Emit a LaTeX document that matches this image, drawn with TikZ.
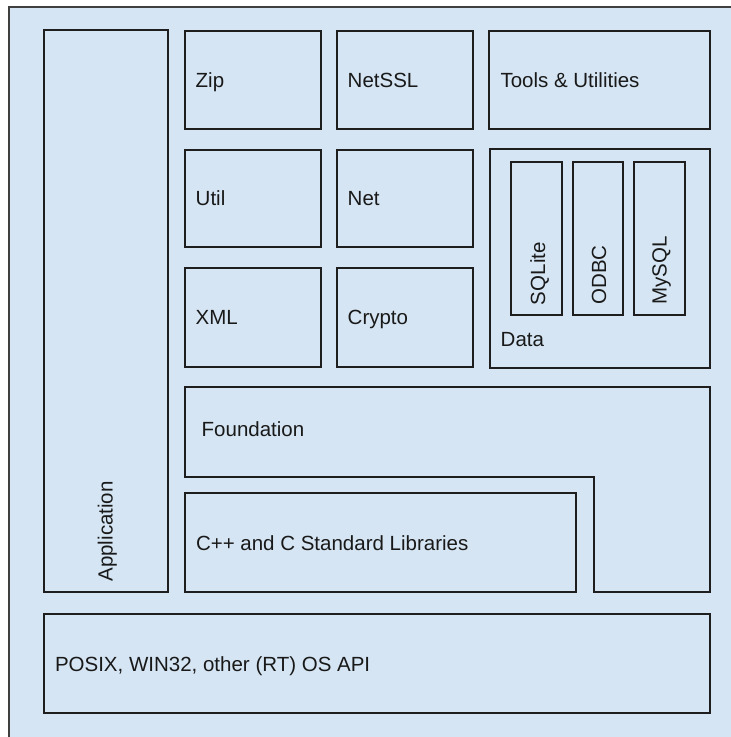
\documentclass[tikz,border=0pt]{standalone}
\usepackage{fontspec}
\setmainfont{Liberation Sans}
\definecolor{fillblue}{HTML}{D5E5F3}
\definecolor{edge}{HTML}{1E1E1E}
\tikzset{
  box/.style={draw=edge, line width=1.8pt, fill=fillblue, rectangle, inner sep=0pt, outer sep=0pt},
  lbl/.style={inner sep=0pt, outer sep=0pt, anchor=base west, font=\fontsize{20.5}{24}\selectfont, text=black!90},
  vlbl/.style={lbl, rotate=90}
}
\begin{document}
\begin{tikzpicture}[x=1pt, y=-1pt]
\useasboundingbox (0,0) rectangle (731,737);
\clip (0,0) rectangle (731,737);
% outer frame
\draw[draw=black!75, line width=1.8pt, fill=fillblue] (9,7) rectangle (745,750);
% boxes
\node[box, minimum width=124, minimum height=562] (app) at (106,311) {};
\node[box, minimum width=136, minimum height=98] (zip) at (253,80) {};
\node[box, minimum width=136, minimum height=98] (netssl) at (405,80) {};
\node[box, minimum width=221, minimum height=98] (tools) at (599.5,80) {};
\node[box, minimum width=136, minimum height=97] (util) at (253,198.5) {};
\node[box, minimum width=136, minimum height=97] (net) at (405,198.5) {};
\node[box, minimum width=136, minimum height=99] (xml) at (253,317.5) {};
\node[box, minimum width=136, minimum height=99] (crypto) at (405,317.5) {};
\node[box, minimum width=220, minimum height=219] (data) at (600,258.5) {};
\node[box, minimum width=51, minimum height=153] (sqlite) at (536.5,238.5) {};
\node[box, minimum width=50, minimum height=153] (odbc) at (598,238.5) {};
\node[box, minimum width=51, minimum height=153] (mysql) at (659.5,238.5) {};
\node[box, minimum width=391, minimum height=99] (cpp) at (380.5,542.5) {};
\node[box, minimum width=666, minimum height=99] (posix) at (377,663.5) {};
% Foundation L-shape
\draw[box] (185,387) -- (710,387) -- (710,592) -- (594,592) -- (594,477) -- (185,477) -- cycle;
\coordinate (found) at (185,387);
% labels
\node[vlbl] (applbl) at (112.5,581.5) {Application};
\node[lbl] (ziplbl) at (195.7,87.3) {Zip};
\node[lbl] (netssllbl) at (347.7,87.3) {NetSSL};
\node[lbl] (toolslbl) at (500.5,87.3) {Tools \& Utilities};
\node[lbl] (utillbl) at (195.7,205.8) {Util};
\node[lbl] (netlbl) at (347.7,205.8) {Net};
\node[lbl] (xmllbl) at (195.7,324.8) {XML};
\node[lbl] (cryptolbl) at (347.7,324.8) {Crypto};
\node[lbl] (datalbl) at (500.7,346.3) {Data};
\node[vlbl] (sqlitelbl) at (545,305) {SQLite};
\node[vlbl] (odbclbl) at (606,304.5) {ODBC};
\node[vlbl] (mysqllbl) at (666.7,304.5) {MySQL};
\node[lbl] (foundlbl) at (201.7,436.7) {Foundation};
\node[lbl] (cpplbl) at (196,550) {C++ and C Standard Libraries};
\node[lbl] (posixlbl) at (55,671) {POSIX, WIN32, other (RT) OS API};
\end{tikzpicture}
\end{document}
